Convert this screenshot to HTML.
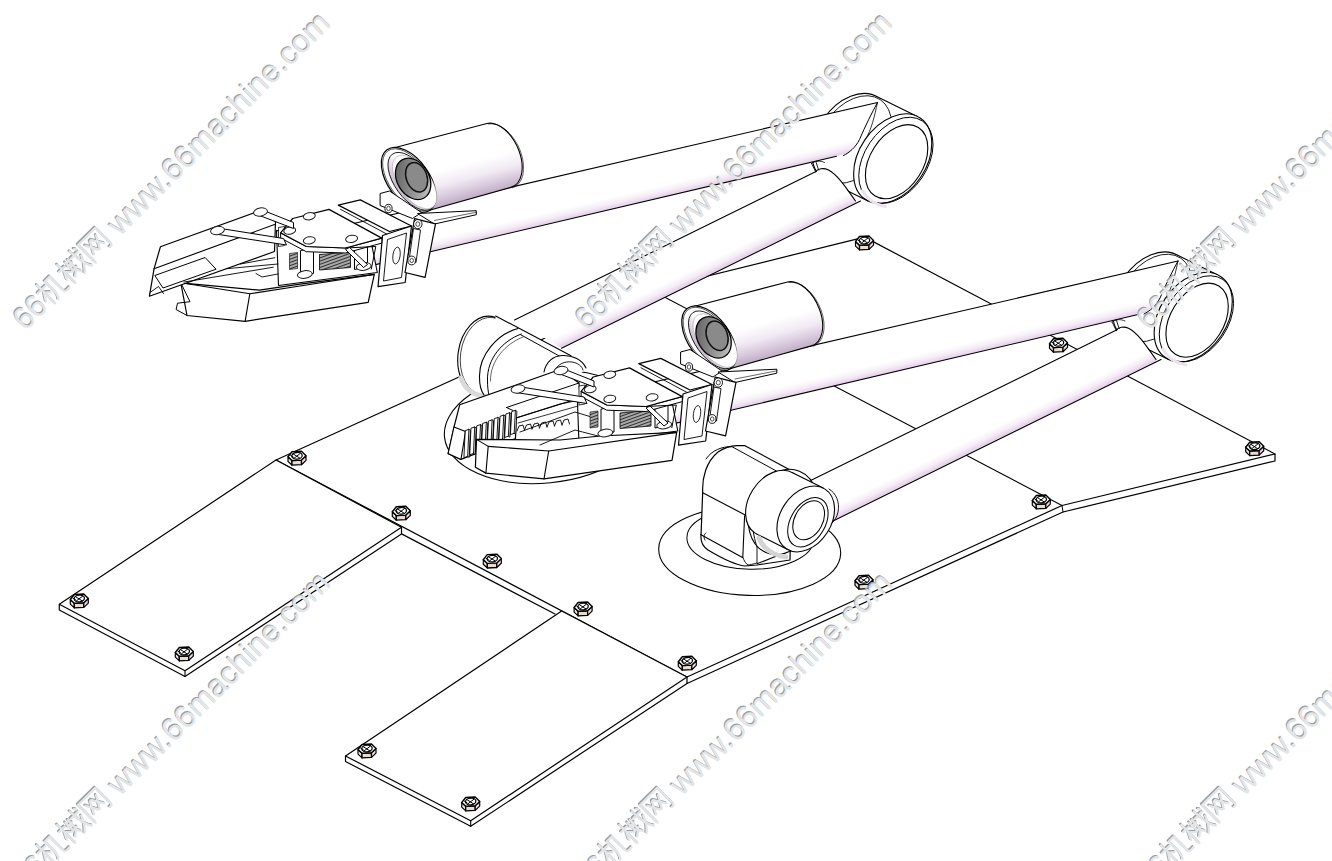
<!DOCTYPE html>
<html><head><meta charset="utf-8"><title>CAD robot arms</title>
<style>html,body{margin:0;padding:0;background:#fff;width:1332px;height:861px;overflow:hidden;font-family:"Liberation Sans",sans-serif;} svg{display:block}</style>
</head><body>
<svg width="1332" height="861" viewBox="0 0 1332 861">
<defs>
<linearGradient id="gTA" gradientUnits="userSpaceOnUse" x1="1000" y1="387.4" x2="1020.04" y2="428.12"><stop offset="0" stop-color="#fff"/><stop offset="0.74" stop-color="#fff"/><stop offset="0.88" stop-color="#f6ecf7"/><stop offset="0.98" stop-color="#e6d2ea"/><stop offset="1" stop-color="#ead9ed"/></linearGradient>
<linearGradient id="gTB" gradientUnits="userSpaceOnUse" x1="900" y1="324.18" x2="910.31" y2="368.08"><stop offset="0" stop-color="#fff"/><stop offset="0.74" stop-color="#fff"/><stop offset="0.88" stop-color="#f6ecf7"/><stop offset="0.98" stop-color="#e6d2ea"/><stop offset="1" stop-color="#ead9ed"/></linearGradient>
<linearGradient id="gCam" gradientUnits="userSpaceOnUse" x1="740" y1="294" x2="757.86" y2="359.61">
<stop offset="0" stop-color="#fff"/><stop offset="0.5" stop-color="#fff"/><stop offset="0.72" stop-color="#f1e9f3"/><stop offset="0.9" stop-color="#d5c5da"/><stop offset="1" stop-color="#c2b0c7"/></linearGradient>
<linearGradient id="gRim" x1="0" y1="0" x2="1" y2="0">
<stop offset="0" stop-color="#c9b3d0"/><stop offset="0.35" stop-color="#efe6f1"/><stop offset="0.5" stop-color="#fff"/><stop offset="1" stop-color="#fff"/></linearGradient>
<linearGradient id="gLens" x1="0" y1="0" x2="1" y2="1">
<stop offset="0" stop-color="#555"/><stop offset="0.45" stop-color="#8a8a8a"/><stop offset="1" stop-color="#d4d4d4"/></linearGradient>
<pattern id="hatch" width="3" height="3" patternUnits="userSpaceOnUse" patternTransform="rotate(70)">
<rect width="3" height="3" fill="#aaa"/><line x1="0" y1="0" x2="0" y2="3" stroke="#111" stroke-width="1.6"/></pattern>
</defs>
<rect width="1332" height="861" fill="#fff"/>
<polygon points="276,460 651,290 864.6,237.1 1275,454 1062,505.5 687,677" fill="#fff" stroke="#000" stroke-width="1.2" stroke-linejoin="round" />
<polyline points="687,677 687,683.5 1063,512 1275,461 1275,454" fill="none" stroke="#000" stroke-width="1.2" stroke-linejoin="round" stroke-linecap="round" />
<line x1="1062" y1="505.5" x2="1063" y2="512" stroke="#000" stroke-width="1.0" stroke-linecap="round"/>
<polyline points="401.5,533.9 555,614" fill="none" stroke="#000" stroke-width="1.2" stroke-linejoin="round" stroke-linecap="round" />
<line x1="651" y1="290" x2="1062" y2="505.5" stroke="#000" stroke-width="1.1" stroke-linecap="round"/>
<polygon points="59.3,604.3 276,460 401.5,527.3 185,670.7" fill="#fff" stroke="#000" stroke-width="1.2" stroke-linejoin="round" />
<polyline points="59.3,604.3 59.3,610 185,676.5 401.5,533.9 401.5,527.3" fill="none" stroke="#000" stroke-width="1.2" stroke-linejoin="round" stroke-linecap="round" />
<line x1="185" y1="670.7" x2="185" y2="676.5" stroke="#000" stroke-width="1.1" stroke-linecap="round"/>
<polygon points="345.5,756 561.7,611 687,677 470.7,820.7" fill="#fff" stroke="#000" stroke-width="1.2" stroke-linejoin="round" />
<polyline points="345.5,756 345.5,761.5 470.7,826.3 687,683.5" fill="none" stroke="#000" stroke-width="1.2" stroke-linejoin="round" stroke-linecap="round" />
<line x1="470.7" y1="820.7" x2="470.7" y2="826.3" stroke="#000" stroke-width="1.1" stroke-linecap="round"/>
<polygon points="70.3,599.5 74.3,603.3 74.3,607.9 70.3,604.1" fill="#ece4dc" stroke="#000" stroke-width="1.2" stroke-linejoin="round" />
<polygon points="74.3,603.3 83.8,602.8 83.8,607.4 74.3,607.9" fill="#eadbcf" stroke="#000" stroke-width="1.3" stroke-linejoin="round" />
<polygon points="83.8,602.8 88.3,598.5 88.3,603.1 83.8,607.4" fill="#f6d9e6" stroke="#000" stroke-width="1.2" stroke-linejoin="round" />
<polygon points="70.3,599.5 74.3,594.5 83.8,594 88.3,598.5 83.8,602.8 74.3,603.3" fill="#fff" stroke="#000" stroke-width="1.4" stroke-linejoin="round" />
<ellipse cx="79.3" cy="598.5" rx="5.2" ry="3.3" transform="rotate(-5 79.3 598.5)" fill="none" stroke="#000" stroke-width="1.3" />
<path d="M75.3,596.5 L82.3,601 M82.8,596 L76.3,601 M72.8,598 L75.8,600" fill="none" stroke="#000" stroke-width="1.0" stroke-linejoin="round" stroke-linecap="round" />
<polygon points="175.3,652.5 179.3,656.3 179.3,660.9 175.3,657.1" fill="#ece4dc" stroke="#000" stroke-width="1.2" stroke-linejoin="round" />
<polygon points="179.3,656.3 188.8,655.8 188.8,660.4 179.3,660.9" fill="#eadbcf" stroke="#000" stroke-width="1.3" stroke-linejoin="round" />
<polygon points="188.8,655.8 193.3,651.5 193.3,656.1 188.8,660.4" fill="#f6d9e6" stroke="#000" stroke-width="1.2" stroke-linejoin="round" />
<polygon points="175.3,652.5 179.3,647.5 188.8,647 193.3,651.5 188.8,655.8 179.3,656.3" fill="#fff" stroke="#000" stroke-width="1.4" stroke-linejoin="round" />
<ellipse cx="184.3" cy="651.5" rx="5.2" ry="3.3" transform="rotate(-5 184.3 651.5)" fill="none" stroke="#000" stroke-width="1.3" />
<path d="M180.3,649.5 L187.3,654 M187.8,649 L181.3,654 M177.8,651 L180.8,653" fill="none" stroke="#000" stroke-width="1.0" stroke-linejoin="round" stroke-linecap="round" />
<polygon points="288,456.8 292,460.6 292,465.2 288,461.4" fill="#ece4dc" stroke="#000" stroke-width="1.2" stroke-linejoin="round" />
<polygon points="292,460.6 301.5,460.1 301.5,464.7 292,465.2" fill="#eadbcf" stroke="#000" stroke-width="1.3" stroke-linejoin="round" />
<polygon points="301.5,460.1 306,455.8 306,460.4 301.5,464.7" fill="#f6d9e6" stroke="#000" stroke-width="1.2" stroke-linejoin="round" />
<polygon points="288,456.8 292,451.8 301.5,451.3 306,455.8 301.5,460.1 292,460.6" fill="#fff" stroke="#000" stroke-width="1.4" stroke-linejoin="round" />
<ellipse cx="297" cy="455.8" rx="5.2" ry="3.3" transform="rotate(-5 297 455.8)" fill="none" stroke="#000" stroke-width="1.3" />
<path d="M293,453.8 L300,458.3 M300.5,453.3 L294,458.3 M290.5,455.3 L293.5,457.3" fill="none" stroke="#000" stroke-width="1.0" stroke-linejoin="round" stroke-linecap="round" />
<polygon points="392.3,511.8 396.3,515.6 396.3,520.2 392.3,516.4" fill="#ece4dc" stroke="#000" stroke-width="1.2" stroke-linejoin="round" />
<polygon points="396.3,515.6 405.8,515.1 405.8,519.7 396.3,520.2" fill="#eadbcf" stroke="#000" stroke-width="1.3" stroke-linejoin="round" />
<polygon points="405.8,515.1 410.3,510.8 410.3,515.4 405.8,519.7" fill="#f6d9e6" stroke="#000" stroke-width="1.2" stroke-linejoin="round" />
<polygon points="392.3,511.8 396.3,506.8 405.8,506.3 410.3,510.8 405.8,515.1 396.3,515.6" fill="#fff" stroke="#000" stroke-width="1.4" stroke-linejoin="round" />
<ellipse cx="401.3" cy="510.8" rx="5.2" ry="3.3" transform="rotate(-5 401.3 510.8)" fill="none" stroke="#000" stroke-width="1.3" />
<path d="M397.3,508.8 L404.3,513.3 M404.8,508.3 L398.3,513.3 M394.8,510.3 L397.8,512.3" fill="none" stroke="#000" stroke-width="1.0" stroke-linejoin="round" stroke-linecap="round" />
<polygon points="483.3,559.6 487.3,563.4 487.3,568 483.3,564.2" fill="#ece4dc" stroke="#000" stroke-width="1.2" stroke-linejoin="round" />
<polygon points="487.3,563.4 496.8,562.9 496.8,567.5 487.3,568" fill="#eadbcf" stroke="#000" stroke-width="1.3" stroke-linejoin="round" />
<polygon points="496.8,562.9 501.3,558.6 501.3,563.2 496.8,567.5" fill="#f6d9e6" stroke="#000" stroke-width="1.2" stroke-linejoin="round" />
<polygon points="483.3,559.6 487.3,554.6 496.8,554.1 501.3,558.6 496.8,562.9 487.3,563.4" fill="#fff" stroke="#000" stroke-width="1.4" stroke-linejoin="round" />
<ellipse cx="492.3" cy="558.6" rx="5.2" ry="3.3" transform="rotate(-5 492.3 558.6)" fill="none" stroke="#000" stroke-width="1.3" />
<path d="M488.3,556.6 L495.3,561.1 M495.8,556.1 L489.3,561.1 M485.8,558.1 L488.8,560.1" fill="none" stroke="#000" stroke-width="1.0" stroke-linejoin="round" stroke-linecap="round" />
<polygon points="574.1,607.5 578.1,611.3 578.1,615.9 574.1,612.1" fill="#ece4dc" stroke="#000" stroke-width="1.2" stroke-linejoin="round" />
<polygon points="578.1,611.3 587.6,610.8 587.6,615.4 578.1,615.9" fill="#eadbcf" stroke="#000" stroke-width="1.3" stroke-linejoin="round" />
<polygon points="587.6,610.8 592.1,606.5 592.1,611.1 587.6,615.4" fill="#f6d9e6" stroke="#000" stroke-width="1.2" stroke-linejoin="round" />
<polygon points="574.1,607.5 578.1,602.5 587.6,602 592.1,606.5 587.6,610.8 578.1,611.3" fill="#fff" stroke="#000" stroke-width="1.4" stroke-linejoin="round" />
<ellipse cx="583.1" cy="606.5" rx="5.2" ry="3.3" transform="rotate(-5 583.1 606.5)" fill="none" stroke="#000" stroke-width="1.3" />
<path d="M579.1,604.5 L586.1,609 M586.6,604 L580.1,609 M576.6,606 L579.6,608" fill="none" stroke="#000" stroke-width="1.0" stroke-linejoin="round" stroke-linecap="round" />
<polygon points="678.3,661.8 682.3,665.6 682.3,670.2 678.3,666.4" fill="#ece4dc" stroke="#000" stroke-width="1.2" stroke-linejoin="round" />
<polygon points="682.3,665.6 691.8,665.1 691.8,669.7 682.3,670.2" fill="#eadbcf" stroke="#000" stroke-width="1.3" stroke-linejoin="round" />
<polygon points="691.8,665.1 696.3,660.8 696.3,665.4 691.8,669.7" fill="#f6d9e6" stroke="#000" stroke-width="1.2" stroke-linejoin="round" />
<polygon points="678.3,661.8 682.3,656.8 691.8,656.3 696.3,660.8 691.8,665.1 682.3,665.6" fill="#fff" stroke="#000" stroke-width="1.4" stroke-linejoin="round" />
<ellipse cx="687.3" cy="660.8" rx="5.2" ry="3.3" transform="rotate(-5 687.3 660.8)" fill="none" stroke="#000" stroke-width="1.3" />
<path d="M683.3,658.8 L690.3,663.3 M690.8,658.3 L684.3,663.3 M680.8,660.3 L683.8,662.3" fill="none" stroke="#000" stroke-width="1.0" stroke-linejoin="round" stroke-linecap="round" />
<polygon points="358,749.5 362,753.3 362,757.9 358,754.1" fill="#ece4dc" stroke="#000" stroke-width="1.2" stroke-linejoin="round" />
<polygon points="362,753.3 371.5,752.8 371.5,757.4 362,757.9" fill="#eadbcf" stroke="#000" stroke-width="1.3" stroke-linejoin="round" />
<polygon points="371.5,752.8 376,748.5 376,753.1 371.5,757.4" fill="#f6d9e6" stroke="#000" stroke-width="1.2" stroke-linejoin="round" />
<polygon points="358,749.5 362,744.5 371.5,744 376,748.5 371.5,752.8 362,753.3" fill="#fff" stroke="#000" stroke-width="1.4" stroke-linejoin="round" />
<ellipse cx="367" cy="748.5" rx="5.2" ry="3.3" transform="rotate(-5 367 748.5)" fill="none" stroke="#000" stroke-width="1.3" />
<path d="M363,746.5 L370,751 M370.5,746 L364,751 M360.5,748 L363.5,750" fill="none" stroke="#000" stroke-width="1.0" stroke-linejoin="round" stroke-linecap="round" />
<polygon points="461.7,802.5 465.7,806.3 465.7,810.9 461.7,807.1" fill="#ece4dc" stroke="#000" stroke-width="1.2" stroke-linejoin="round" />
<polygon points="465.7,806.3 475.2,805.8 475.2,810.4 465.7,810.9" fill="#eadbcf" stroke="#000" stroke-width="1.3" stroke-linejoin="round" />
<polygon points="475.2,805.8 479.7,801.5 479.7,806.1 475.2,810.4" fill="#f6d9e6" stroke="#000" stroke-width="1.2" stroke-linejoin="round" />
<polygon points="461.7,802.5 465.7,797.5 475.2,797 479.7,801.5 475.2,805.8 465.7,806.3" fill="#fff" stroke="#000" stroke-width="1.4" stroke-linejoin="round" />
<ellipse cx="470.7" cy="801.5" rx="5.2" ry="3.3" transform="rotate(-5 470.7 801.5)" fill="none" stroke="#000" stroke-width="1.3" />
<path d="M466.7,799.5 L473.7,804 M474.2,799 L467.7,804 M464.2,801 L467.2,803" fill="none" stroke="#000" stroke-width="1.0" stroke-linejoin="round" stroke-linecap="round" />
<polygon points="855,580.8 859,584.6 859,589.2 855,585.4" fill="#ece4dc" stroke="#000" stroke-width="1.2" stroke-linejoin="round" />
<polygon points="859,584.6 868.5,584.1 868.5,588.7 859,589.2" fill="#eadbcf" stroke="#000" stroke-width="1.3" stroke-linejoin="round" />
<polygon points="868.5,584.1 873,579.8 873,584.4 868.5,588.7" fill="#f6d9e6" stroke="#000" stroke-width="1.2" stroke-linejoin="round" />
<polygon points="855,580.8 859,575.8 868.5,575.3 873,579.8 868.5,584.1 859,584.6" fill="#fff" stroke="#000" stroke-width="1.4" stroke-linejoin="round" />
<ellipse cx="864" cy="579.8" rx="5.2" ry="3.3" transform="rotate(-5 864 579.8)" fill="none" stroke="#000" stroke-width="1.3" />
<path d="M860,577.8 L867,582.3 M867.5,577.3 L861,582.3 M857.5,579.3 L860.5,581.3" fill="none" stroke="#000" stroke-width="1.0" stroke-linejoin="round" stroke-linecap="round" />
<polygon points="1032.3,500.5 1036.3,504.3 1036.3,508.9 1032.3,505.1" fill="#ece4dc" stroke="#000" stroke-width="1.2" stroke-linejoin="round" />
<polygon points="1036.3,504.3 1045.8,503.8 1045.8,508.4 1036.3,508.9" fill="#eadbcf" stroke="#000" stroke-width="1.3" stroke-linejoin="round" />
<polygon points="1045.8,503.8 1050.3,499.5 1050.3,504.1 1045.8,508.4" fill="#f6d9e6" stroke="#000" stroke-width="1.2" stroke-linejoin="round" />
<polygon points="1032.3,500.5 1036.3,495.5 1045.8,495 1050.3,499.5 1045.8,503.8 1036.3,504.3" fill="#fff" stroke="#000" stroke-width="1.4" stroke-linejoin="round" />
<ellipse cx="1041.3" cy="499.5" rx="5.2" ry="3.3" transform="rotate(-5 1041.3 499.5)" fill="none" stroke="#000" stroke-width="1.3" />
<path d="M1037.3,497.5 L1044.3,502 M1044.8,497 L1038.3,502 M1034.8,499 L1037.8,501" fill="none" stroke="#000" stroke-width="1.0" stroke-linejoin="round" stroke-linecap="round" />
<polygon points="1245.7,447.2 1249.7,451 1249.7,455.6 1245.7,451.8" fill="#ece4dc" stroke="#000" stroke-width="1.2" stroke-linejoin="round" />
<polygon points="1249.7,451 1259.2,450.5 1259.2,455.1 1249.7,455.6" fill="#eadbcf" stroke="#000" stroke-width="1.3" stroke-linejoin="round" />
<polygon points="1259.2,450.5 1263.7,446.2 1263.7,450.8 1259.2,455.1" fill="#f6d9e6" stroke="#000" stroke-width="1.2" stroke-linejoin="round" />
<polygon points="1245.7,447.2 1249.7,442.2 1259.2,441.7 1263.7,446.2 1259.2,450.5 1249.7,451" fill="#fff" stroke="#000" stroke-width="1.4" stroke-linejoin="round" />
<ellipse cx="1254.7" cy="446.2" rx="5.2" ry="3.3" transform="rotate(-5 1254.7 446.2)" fill="none" stroke="#000" stroke-width="1.3" />
<path d="M1250.7,444.2 L1257.7,448.7 M1258.2,443.7 L1251.7,448.7 M1248.2,445.7 L1251.2,447.7" fill="none" stroke="#000" stroke-width="1.0" stroke-linejoin="round" stroke-linecap="round" />
<polygon points="1049.5,343.8 1053.5,347.6 1053.5,352.2 1049.5,348.4" fill="#ece4dc" stroke="#000" stroke-width="1.2" stroke-linejoin="round" />
<polygon points="1053.5,347.6 1063,347.1 1063,351.7 1053.5,352.2" fill="#eadbcf" stroke="#000" stroke-width="1.3" stroke-linejoin="round" />
<polygon points="1063,347.1 1067.5,342.8 1067.5,347.4 1063,351.7" fill="#f6d9e6" stroke="#000" stroke-width="1.2" stroke-linejoin="round" />
<polygon points="1049.5,343.8 1053.5,338.8 1063,338.3 1067.5,342.8 1063,347.1 1053.5,347.6" fill="#fff" stroke="#000" stroke-width="1.4" stroke-linejoin="round" />
<ellipse cx="1058.5" cy="342.8" rx="5.2" ry="3.3" transform="rotate(-5 1058.5 342.8)" fill="none" stroke="#000" stroke-width="1.3" />
<path d="M1054.5,340.8 L1061.5,345.3 M1062,340.3 L1055.5,345.3 M1052,342.3 L1055,344.3" fill="none" stroke="#000" stroke-width="1.0" stroke-linejoin="round" stroke-linecap="round" />
<polygon points="855.5,241.5 859.5,245.3 859.5,249.9 855.5,246.1" fill="#ece4dc" stroke="#000" stroke-width="1.2" stroke-linejoin="round" />
<polygon points="859.5,245.3 869,244.8 869,249.4 859.5,249.9" fill="#eadbcf" stroke="#000" stroke-width="1.3" stroke-linejoin="round" />
<polygon points="869,244.8 873.5,240.5 873.5,245.1 869,249.4" fill="#f6d9e6" stroke="#000" stroke-width="1.2" stroke-linejoin="round" />
<polygon points="855.5,241.5 859.5,236.5 869,236 873.5,240.5 869,244.8 859.5,245.3" fill="#fff" stroke="#000" stroke-width="1.4" stroke-linejoin="round" />
<ellipse cx="864.5" cy="240.5" rx="5.2" ry="3.3" transform="rotate(-5 864.5 240.5)" fill="none" stroke="#000" stroke-width="1.3" />
<path d="M860.5,238.5 L867.5,243 M868,238 L861.5,243 M858,240 L861,242" fill="none" stroke="#000" stroke-width="1.0" stroke-linejoin="round" stroke-linecap="round" />
<ellipse cx="749.7" cy="551" rx="91" ry="44.4" transform="rotate(1.6 749.7 551)" fill="#fff" stroke="#000" stroke-width="1.1" />
<ellipse cx="545" cy="427" rx="101" ry="56" transform="rotate(-5.75 545 427)" fill="#fff" stroke="#000" stroke-width="1.1" />
<g transform="translate(-300.5,-158.5)"><ellipse cx="1151.5" cy="296.8" rx="33.6" ry="49" transform="rotate(34 1151.5 296.8)" fill="#fff" stroke="#000" stroke-width="1.1" />
<polygon points="1168.57,359.43 1126.87,339.03 1176.13,254.57 1217.83,274.97" fill="#fff" stroke="none" stroke-width="0" stroke-linejoin="round" />
<line x1="1168.57" y1="359.43" x2="1126.87" y2="339.03" stroke="#000" stroke-width="1.1" stroke-linecap="round"/><line x1="1217.83" y1="274.97" x2="1176.13" y2="254.57" stroke="#000" stroke-width="1.1" stroke-linecap="round"/>
<ellipse cx="1154" cy="298" rx="32.6" ry="48" transform="rotate(34 1154 298)" fill="none" stroke="#000" stroke-width="0.8" /><polygon points="640,385.28 1178,261 1170,278 1160,298 1148,312 1137,314.81 640,431.6" fill="url(#gTB)" stroke="none" stroke-width="0" stroke-linejoin="round" />
<polyline points="640,385.28 1178,261" fill="none" stroke="#000" stroke-width="1.1" stroke-linejoin="round" stroke-linecap="round" />
<polyline points="640,431.6 1137,314.81" fill="none" stroke="#000" stroke-width="1.1" stroke-linejoin="round" stroke-linecap="round" />
<path d="M1178,261 C1172,272 1166,284 1160,298 C1156,306 1150,311 1144,314" fill="none" stroke="#000" stroke-width="1.0" stroke-linejoin="round" stroke-linecap="round" />
<path d="M1178,261 C1175,275 1172,288 1166,298" fill="none" stroke="#000" stroke-width="0.8" stroke-linejoin="round" stroke-linecap="round" /><polygon points="815,478.42 1117,329.84 1124,327.5 1137,333.4 1149.4,351.3 1157,361.56 862,506.7" fill="url(#gTA)" stroke="none" stroke-width="0" stroke-linejoin="round" />
<polyline points="815,478.42 1117,329.84" fill="none" stroke="#000" stroke-width="1.1" stroke-linejoin="round" stroke-linecap="round" />
<polyline points="862,506.7 1161,359.59" fill="none" stroke="#000" stroke-width="1.1" stroke-linejoin="round" stroke-linecap="round" />
<path d="M1116,330.4 C1118,327 1124,326 1129,328.5 C1139,334 1147,347 1156,359.5" fill="none" stroke="#000" stroke-width="1.1" stroke-linejoin="round" stroke-linecap="round" />
<path d="M1112,322 L1116,330 M1112,322 C1116,319 1121,319 1125,321" fill="none" stroke="#000" stroke-width="0.8" stroke-linejoin="round" stroke-linecap="round" /></g>
<polygon points="495.7,316 571,355.7 586,368 575,380 490,396" fill="#fff" stroke="none" stroke-width="0" stroke-linejoin="round" />
<ellipse cx="486" cy="356" rx="28" ry="40" transform="rotate(8 486 356)" fill="#fff" stroke="#000" stroke-width="1.1" />
<ellipse cx="487.5" cy="356.2" rx="27" ry="39" transform="rotate(8 487.5 356.2)" fill="none" stroke="#000" stroke-width="0.7" />
<polygon points="495.7,316 518,328.5 530,345 500,395 486,396" fill="#fff" stroke="none" stroke-width="0" stroke-linejoin="round" />
<line x1="495.7" y1="316" x2="571" y2="355.7" stroke="#000" stroke-width="1.1" stroke-linecap="round"/>
<path d="M461,378 C465,389 473,395 484,396" fill="none" stroke="#d9d9d9" stroke-width="5" stroke-linejoin="round" stroke-linecap="round" />
<path d="M518,328.5 C497,334 479,355 479.5,377 C479.5,385 481,391 484,395" fill="none" stroke="#000" stroke-width="1.1" stroke-linejoin="round" stroke-linecap="round" />
<path d="M521.3,334 C502,341 487,359 487.5,380 C487.5,387 488,391 489,395" fill="none" stroke="#000" stroke-width="1.0" stroke-linejoin="round" stroke-linecap="round" />
<path d="M523,337 C505,344 490,361 490.5,381" fill="none" stroke="#000" stroke-width="0.6" stroke-linejoin="round" stroke-linecap="round" />
<line x1="520.8" y1="334.8" x2="561.3" y2="357.1" stroke="#000" stroke-width="1.0" stroke-linecap="round"/>
<path d="M544,372 C546,362 553,356 562,355.5 C572,355 582,359 586,368" fill="#fff" stroke="#000" stroke-width="1.1" stroke-linejoin="round" stroke-linecap="round" />
<path d="M555,370 C558,364 565,361 572,362 C578,363 582,366 583,370" fill="none" stroke="#000" stroke-width="0.9" stroke-linejoin="round" stroke-linecap="round" />
<g transform="translate(-300.5,-158.5)"><ellipse cx="1193.2" cy="317.2" rx="33.6" ry="49" transform="rotate(34 1193.2 317.2)" fill="#fff" stroke="#000" stroke-width="1.1" />
<ellipse cx="1196.4" cy="318.8" rx="31.4" ry="47.4" transform="rotate(34 1196.4 318.8)" fill="none" stroke="#000" stroke-width="0.9" />
<path d="M1163,349 C1167,357 1175,363 1186,365" fill="none" stroke="#eee2ee" stroke-width="3.0" stroke-linejoin="round" stroke-linecap="round" />
<ellipse cx="1197.1" cy="320.19" rx="26.49" ry="40.5" transform="rotate(32.56 1197.1 320.19)" fill="#fff" stroke="#000" stroke-width="1.1" /><path d="M691.9,306.91 L787.44,281.94 A20.67,34.29 -24.56 0 1 811.46,345.86 L726.42,369.75 Z" fill="url(#gCam)" stroke="#000" stroke-width="1.1" stroke-linejoin="round" stroke-linecap="round" />
<path d="M788.94,282.44 A20.67,34.29 -24.56 0 1 812.96,346.36" fill="none" stroke="#000" stroke-width="0.6" stroke-linejoin="round" stroke-linecap="round" />
<ellipse cx="709.16" cy="338.33" rx="20.64" ry="37.05" transform="rotate(-35.73 709.16 338.33)" fill="#fff" stroke="#000" stroke-width="1.2" />
<ellipse cx="709.16" cy="338.33" rx="19.24" ry="35.65" transform="rotate(-35.73 709.16 338.33)" fill="none" stroke="#000" stroke-width="0.6" />
<ellipse cx="712.36" cy="339.83" rx="17.04" ry="33.45" transform="rotate(-35.73 712.36 339.83)" fill="url(#gRim)" stroke="#000" stroke-width="0.8" />
<ellipse cx="715.16" cy="340.53" rx="15.84" ry="30.95" transform="rotate(-35.73 715.16 340.53)" fill="#fff" stroke="#999" stroke-width="0.5" />
<ellipse cx="713.6" cy="337.4" rx="16" ry="22" transform="rotate(-30 713.6 337.4)" fill="url(#gLens)" stroke="#000" stroke-width="1.3" />
<ellipse cx="717.1" cy="335.8" rx="10.4" ry="15.2" transform="rotate(-20 717.1 335.8)" fill="#8a8a8a" stroke="#111" stroke-width="1.5" /><polygon points="680.6,352 690,349.5 722,371 713,377 680.6,364" fill="#fff" stroke="#000" stroke-width="1.0" stroke-linejoin="round" />
<ellipse cx="689" cy="367" rx="3.6" ry="4.2" transform="rotate(0 689 367)" fill="#fff" stroke="#000" stroke-width="0.9" />
<ellipse cx="689" cy="367" rx="1.8" ry="2.2" transform="rotate(0 689 367)" fill="none" stroke="#000" stroke-width="0.7" />
<polygon points="718,372 776.8,369.2 776.8,373.2 735,382.5" fill="#fff" stroke="#000" stroke-width="1.0" stroke-linejoin="round" />
<line x1="735" y1="379" x2="776.8" y2="370.8" stroke="#000" stroke-width="0.6" stroke-linecap="round"/>
<polygon points="638.8,363.6 660.8,358.4 712,384.5 690,390" fill="#fff" stroke="#000" stroke-width="1.2" stroke-linejoin="round" />
<line x1="641" y1="367.8" x2="689" y2="393.5" stroke="#000" stroke-width="0.9" stroke-linecap="round"/>
<polygon points="683,394 712,384.5 705.7,441 678.5,445.2" fill="#fff" stroke="#000" stroke-width="1.2" stroke-linejoin="round" />
<polygon points="688,398 707,391.5 702,436 684,439.5" fill="#fff" stroke="#000" stroke-width="0.9" stroke-linejoin="round" />
<ellipse cx="697" cy="414" rx="3.6" ry="8.5" transform="rotate(8 697 414)" fill="#fff" stroke="#000" stroke-width="0.8" />
<polygon points="715.1,377.2 736,382.4 725.6,435.8 705.5,431" fill="#fff" stroke="#000" stroke-width="1.2" stroke-linejoin="round" />
<polygon points="714,387 721,388.5 716.5,421 709.5,419.5" fill="#fff" stroke="#000" stroke-width="0.9" stroke-linejoin="round" />
<ellipse cx="718.3" cy="382.6" rx="4.2" ry="4.6" transform="rotate(0 718.3 382.6)" fill="#fff" stroke="#000" stroke-width="0.9" />
<ellipse cx="718.3" cy="382.6" rx="2" ry="2.3" transform="rotate(0 718.3 382.6)" fill="none" stroke="#000" stroke-width="0.7" />
<ellipse cx="712.2" cy="419" rx="3.8" ry="4.4" transform="rotate(0 712.2 419)" fill="#fff" stroke="#000" stroke-width="0.9" />
<ellipse cx="712.2" cy="419" rx="1.8" ry="2.1" transform="rotate(0 712.2 419)" fill="none" stroke="#000" stroke-width="0.7" /><polygon points="577,389 670,392 677.8,431 579,444" fill="#fff" stroke="#000" stroke-width="1.1" stroke-linejoin="round" />
<polygon points="487.5,474 481.3,441.3 560,448.7 600.5,442.7 674.8,432.9 668.7,460.8 545.6,479.8" fill="#fff" stroke="#000" stroke-width="1.2" stroke-linejoin="round" />
<polyline points="550.3,452.3 545.6,479.8" fill="none" stroke="#000" stroke-width="1.1" stroke-linejoin="round" stroke-linecap="round" />
<polyline points="481.3,441.3 550.3,452.3 600.5,444.5 674.8,432.9" fill="none" stroke="#000" stroke-width="1.1" stroke-linejoin="round" stroke-linecap="round" />
<polyline points="481.3,441.3 490.5,460.2 478,461.7 476.6,468 487.5,474" fill="none" stroke="#000" stroke-width="1.0" stroke-linejoin="round" stroke-linecap="round" />
<polygon points="460.9,405.3 558.1,370 576,380 575,410 449.9,454.7 454.6,427.2" fill="#fff" stroke="#000" stroke-width="1.2" stroke-linejoin="round" />
<polyline points="454.6,427.2 575,383" fill="none" stroke="#000" stroke-width="1.1" stroke-linejoin="round" stroke-linecap="round" />
<polygon points="455.3,434 505.6,416 516.6,427.7 463.5,446.5" fill="#fff" stroke="#000" stroke-width="1.0" stroke-linejoin="round" />
<polyline points="450.5,451 459,445 464,452" fill="none" stroke="#000" stroke-width="0.9" stroke-linejoin="round" stroke-linecap="round" />
<polyline points="484.4,440.6 573.8,425.7" fill="none" stroke="#000" stroke-width="0.9" stroke-linejoin="round" stroke-linecap="round" />
<polyline points="526.8,427.2 578.5,422.5" fill="none" stroke="#000" stroke-width="0.9" stroke-linejoin="round" stroke-linecap="round" />
<polyline points="540.9,422.5 575.4,416.2" fill="none" stroke="#000" stroke-width="0.9" stroke-linejoin="round" stroke-linecap="round" />
<polyline points="556.5,432 562.5,435.5 578.5,432.5" fill="none" stroke="#000" stroke-width="0.9" stroke-linejoin="round" stroke-linecap="round" />
<polygon points="601,409 614,407 614,432 601,434" fill="#fff" stroke="#000" stroke-width="1.0" stroke-linejoin="round" />
<polygon points="655,407 668,404 668,425 655,428" fill="#fff" stroke="#000" stroke-width="1.0" stroke-linejoin="round" />
<ellipse cx="605.3" cy="433" rx="7.5" ry="3.8" transform="rotate(-8 605.3 433)" fill="#fff" stroke="#1a1a1a" stroke-width="1.0" />
<ellipse cx="664.2" cy="425" rx="7.5" ry="3.8" transform="rotate(-8 664.2 425)" fill="#fff" stroke="#1a1a1a" stroke-width="1.0" />
<polygon points="620,413 651,410.5 651,426 620,428.5" fill="url(#hatch)" stroke="#000" stroke-width="0.8" stroke-linejoin="round" />
<polygon points="590,412 598,411 598,427 590,428" fill="url(#hatch)" stroke="#000" stroke-width="0.6" stroke-linejoin="round" />
<polygon points="579,386 585,385 585,404 579,405" fill="#fff" stroke="#000" stroke-width="0.8" stroke-linejoin="round" />
<polygon points="581.1,391.4 581.1,396.5 606.8,410.2 646.1,411.5 682.3,401.6 682.3,396.6 646.1,406.5 606.8,405" fill="#fff" stroke="#000" stroke-width="1.0" stroke-linejoin="round" />
<polygon points="581.1,391.4 593.2,377 629.5,367.9 682.3,396.6 646.1,406.5 606.8,405" fill="#fff" stroke="#000" stroke-width="1.2" stroke-linejoin="round" />
<ellipse cx="609.8" cy="374.7" rx="6" ry="3.6" transform="rotate(-10 609.8 374.7)" fill="#fff" stroke="#1a1a1a" stroke-width="1.0" />
<ellipse cx="590.2" cy="389.1" rx="6" ry="3.6" transform="rotate(-10 590.2 389.1)" fill="#fff" stroke="#1a1a1a" stroke-width="1.0" />
<ellipse cx="609.8" cy="398.9" rx="6" ry="3.6" transform="rotate(-10 609.8 398.9)" fill="#fff" stroke="#1a1a1a" stroke-width="1.0" />
<ellipse cx="652.1" cy="397.4" rx="6" ry="3.6" transform="rotate(-10 652.1 397.4)" fill="#fff" stroke="#1a1a1a" stroke-width="1.0" />
<polygon points="559,367 594,381 594,387 560,374" fill="#fff" stroke="#000" stroke-width="1.0" stroke-linejoin="round" />
<polygon points="515,386 584,397 587,403.5 516,392.5" fill="#fff" stroke="#000" stroke-width="1.0" stroke-linejoin="round" />
<ellipse cx="561" cy="370.5" rx="7" ry="4" transform="rotate(-10 561 370.5)" fill="#fff" stroke="#1a1a1a" stroke-width="1.0" />
<ellipse cx="518" cy="389" rx="7" ry="4" transform="rotate(-10 518 389)" fill="#fff" stroke="#1a1a1a" stroke-width="1.0" />
<polyline points="646.1,406.5 676.3,405 671.8,427.6" fill="none" stroke="#000" stroke-width="1.0" stroke-linejoin="round" stroke-linecap="round" />
<polygon points="646,408 650,406 668,423 664,426" fill="#fff" stroke="#000" stroke-width="1.0" stroke-linejoin="round" /></g>
<g><ellipse cx="1151.5" cy="296.8" rx="33.6" ry="49" transform="rotate(34 1151.5 296.8)" fill="#fff" stroke="#000" stroke-width="1.1" />
<polygon points="1168.57,359.43 1126.87,339.03 1176.13,254.57 1217.83,274.97" fill="#fff" stroke="none" stroke-width="0" stroke-linejoin="round" />
<line x1="1168.57" y1="359.43" x2="1126.87" y2="339.03" stroke="#000" stroke-width="1.1" stroke-linecap="round"/><line x1="1217.83" y1="274.97" x2="1176.13" y2="254.57" stroke="#000" stroke-width="1.1" stroke-linecap="round"/>
<ellipse cx="1154" cy="298" rx="32.6" ry="48" transform="rotate(34 1154 298)" fill="none" stroke="#000" stroke-width="0.8" /><polygon points="640,385.28 1178,261 1170,278 1160,298 1148,312 1137,314.81 640,431.6" fill="url(#gTB)" stroke="none" stroke-width="0" stroke-linejoin="round" />
<polyline points="640,385.28 1178,261" fill="none" stroke="#000" stroke-width="1.1" stroke-linejoin="round" stroke-linecap="round" />
<polyline points="640,431.6 1137,314.81" fill="none" stroke="#000" stroke-width="1.1" stroke-linejoin="round" stroke-linecap="round" />
<path d="M1178,261 C1172,272 1166,284 1160,298 C1156,306 1150,311 1144,314" fill="none" stroke="#000" stroke-width="1.0" stroke-linejoin="round" stroke-linecap="round" />
<path d="M1178,261 C1175,275 1172,288 1166,298" fill="none" stroke="#000" stroke-width="0.8" stroke-linejoin="round" stroke-linecap="round" /><polygon points="805,483.34 1117,329.84 1124,327.5 1137,333.4 1149.4,351.3 1157,361.56 830,522.44" fill="url(#gTA)" stroke="none" stroke-width="0" stroke-linejoin="round" />
<polyline points="805,483.34 1117,329.84" fill="none" stroke="#000" stroke-width="1.1" stroke-linejoin="round" stroke-linecap="round" />
<polyline points="830,522.44 1161,359.59" fill="none" stroke="#000" stroke-width="1.1" stroke-linejoin="round" stroke-linecap="round" />
<path d="M1116,330.4 C1118,327 1124,326 1129,328.5 C1139,334 1147,347 1156,359.5" fill="none" stroke="#000" stroke-width="1.1" stroke-linejoin="round" stroke-linecap="round" />
<path d="M1112,322 L1116,330 M1112,322 C1116,319 1121,319 1125,321" fill="none" stroke="#000" stroke-width="0.8" stroke-linejoin="round" stroke-linecap="round" /></g>
<ellipse cx="750.3" cy="538.5" rx="63.4" ry="30.8" transform="rotate(1 750.3 538.5)" fill="#fff" stroke="#000" stroke-width="1.0" />
<path d="M701,536 L702.7,492 C702,478 706,462 718,452 C724,448 730,446 737,445.7 L745,445.7 L792,471 L790,560 L757,565 L745,566 C735,565 718,556 708,550 C702,546 700.6,542 701,536 Z" fill="#fff" stroke="#000" stroke-width="1.2" stroke-linejoin="round" stroke-linecap="round" />
<polyline points="702.7,492.7 746.6,515.7" fill="none" stroke="#000" stroke-width="1.1" stroke-linejoin="round" stroke-linecap="round" />
<path d="M706,459 C712,450 722,446.5 732,446.7 L776,470.8" fill="none" stroke="#000" stroke-width="1.0" stroke-linejoin="round" stroke-linecap="round" />
<polyline points="700.6,534.6 742.5,557.6" fill="none" stroke="#000" stroke-width="1.1" stroke-linejoin="round" stroke-linecap="round" />
<path d="M705,540 C703,537 704,534 706,533" fill="none" stroke="#000" stroke-width="0.9" stroke-linejoin="round" stroke-linecap="round" />
<line x1="744.6" y1="515.7" x2="742.8" y2="557" stroke="#000" stroke-width="1.1" stroke-linecap="round"/>
<path d="M742.8,557 C744,561 746,564 748,565 M757,547 L757,563 C753,564 750,565 748,565" fill="none" stroke="#000" stroke-width="0.9" stroke-linejoin="round" stroke-linecap="round" />
<line x1="757" y1="563.8" x2="784" y2="553" stroke="#000" stroke-width="1.1" stroke-linecap="round"/>
<ellipse cx="783" cy="512" rx="33" ry="44" transform="rotate(22 783 512)" fill="#fff" stroke="#000" stroke-width="1.1" />
<path d="M776,470.8 C763,478 753,495 752,515 C752,530 755,541 757,547" fill="none" stroke="#000" stroke-width="1.0" stroke-linejoin="round" stroke-linecap="round" />
<ellipse cx="774.42" cy="503.26" rx="25.46" ry="35.57" transform="rotate(32.88 774.42 503.26)" fill="#fff" stroke="#000" stroke-width="1.1" />
<polygon points="788.14,549.82 756.84,534.12 792,472.4 823.3,488.1" fill="#fff" stroke="none" stroke-width="0" stroke-linejoin="round" />
<line x1="788.14" y1="549.82" x2="756.84" y2="534.12" stroke="#000" stroke-width="1.1" stroke-linecap="round"/><line x1="823.3" y1="488.1" x2="792" y2="472.4" stroke="#000" stroke-width="1.1" stroke-linecap="round"/>
<path d="M759,538 C763,548 772,555 786,557" fill="none" stroke="#d4d4d4" stroke-width="5" stroke-linejoin="round" stroke-linecap="round" />
<ellipse cx="805.72" cy="518.96" rx="25.46" ry="35.57" transform="rotate(32.88 805.72 518.96)" fill="#fff" stroke="#000" stroke-width="1.1" />
<ellipse cx="807.89" cy="522.28" rx="17.37" ry="26.76" transform="rotate(30.49 807.89 522.28)" fill="#fff" stroke="#000" stroke-width="1.0" />
<ellipse cx="808.68" cy="520.25" rx="14.05" ry="20.9" transform="rotate(28.8 808.68 520.25)" fill="#fff" stroke="#000" stroke-width="1.0" />
<path d="M829,489 C836,493 840,502 838,512 C837,517 835,520 832,523" fill="none" stroke="#000" stroke-width="0.9" stroke-linejoin="round" stroke-linecap="round" />
<g><ellipse cx="1193.2" cy="317.2" rx="33.6" ry="49" transform="rotate(34 1193.2 317.2)" fill="#fff" stroke="#000" stroke-width="1.1" />
<ellipse cx="1196.4" cy="318.8" rx="31.4" ry="47.4" transform="rotate(34 1196.4 318.8)" fill="none" stroke="#000" stroke-width="0.9" />
<path d="M1163,349 C1167,357 1175,363 1186,365" fill="none" stroke="#eee2ee" stroke-width="3.0" stroke-linejoin="round" stroke-linecap="round" />
<ellipse cx="1197.1" cy="320.19" rx="26.49" ry="40.5" transform="rotate(32.56 1197.1 320.19)" fill="#fff" stroke="#000" stroke-width="1.1" /><path d="M691.9,306.91 L787.44,281.94 A20.67,34.29 -24.56 0 1 811.46,345.86 L726.42,369.75 Z" fill="url(#gCam)" stroke="#000" stroke-width="1.1" stroke-linejoin="round" stroke-linecap="round" />
<path d="M788.94,282.44 A20.67,34.29 -24.56 0 1 812.96,346.36" fill="none" stroke="#000" stroke-width="0.6" stroke-linejoin="round" stroke-linecap="round" />
<ellipse cx="709.16" cy="338.33" rx="20.64" ry="37.05" transform="rotate(-35.73 709.16 338.33)" fill="#fff" stroke="#000" stroke-width="1.2" />
<ellipse cx="709.16" cy="338.33" rx="19.24" ry="35.65" transform="rotate(-35.73 709.16 338.33)" fill="none" stroke="#000" stroke-width="0.6" />
<ellipse cx="712.36" cy="339.83" rx="17.04" ry="33.45" transform="rotate(-35.73 712.36 339.83)" fill="url(#gRim)" stroke="#000" stroke-width="0.8" />
<ellipse cx="715.16" cy="340.53" rx="15.84" ry="30.95" transform="rotate(-35.73 715.16 340.53)" fill="#fff" stroke="#999" stroke-width="0.5" />
<ellipse cx="713.6" cy="337.4" rx="16" ry="22" transform="rotate(-30 713.6 337.4)" fill="url(#gLens)" stroke="#000" stroke-width="1.3" />
<ellipse cx="717.1" cy="335.8" rx="10.4" ry="15.2" transform="rotate(-20 717.1 335.8)" fill="#8a8a8a" stroke="#111" stroke-width="1.5" /><polygon points="680.6,352 690,349.5 722,371 713,377 680.6,364" fill="#fff" stroke="#000" stroke-width="1.0" stroke-linejoin="round" />
<ellipse cx="689" cy="367" rx="3.6" ry="4.2" transform="rotate(0 689 367)" fill="#fff" stroke="#000" stroke-width="0.9" />
<ellipse cx="689" cy="367" rx="1.8" ry="2.2" transform="rotate(0 689 367)" fill="none" stroke="#000" stroke-width="0.7" />
<polygon points="718,372 776.8,369.2 776.8,373.2 735,382.5" fill="#fff" stroke="#000" stroke-width="1.0" stroke-linejoin="round" />
<line x1="735" y1="379" x2="776.8" y2="370.8" stroke="#000" stroke-width="0.6" stroke-linecap="round"/>
<polygon points="638.8,363.6 660.8,358.4 712,384.5 690,390" fill="#fff" stroke="#000" stroke-width="1.2" stroke-linejoin="round" />
<line x1="641" y1="367.8" x2="689" y2="393.5" stroke="#000" stroke-width="0.9" stroke-linecap="round"/>
<polygon points="683,394 712,384.5 705.7,441 678.5,445.2" fill="#fff" stroke="#000" stroke-width="1.2" stroke-linejoin="round" />
<polygon points="688,398 707,391.5 702,436 684,439.5" fill="#fff" stroke="#000" stroke-width="0.9" stroke-linejoin="round" />
<ellipse cx="697" cy="414" rx="3.6" ry="8.5" transform="rotate(8 697 414)" fill="#fff" stroke="#000" stroke-width="0.8" />
<polygon points="715.1,377.2 736,382.4 725.6,435.8 705.5,431" fill="#fff" stroke="#000" stroke-width="1.2" stroke-linejoin="round" />
<polygon points="714,387 721,388.5 716.5,421 709.5,419.5" fill="#fff" stroke="#000" stroke-width="0.9" stroke-linejoin="round" />
<ellipse cx="718.3" cy="382.6" rx="4.2" ry="4.6" transform="rotate(0 718.3 382.6)" fill="#fff" stroke="#000" stroke-width="0.9" />
<ellipse cx="718.3" cy="382.6" rx="2" ry="2.3" transform="rotate(0 718.3 382.6)" fill="none" stroke="#000" stroke-width="0.7" />
<ellipse cx="712.2" cy="419" rx="3.8" ry="4.4" transform="rotate(0 712.2 419)" fill="#fff" stroke="#000" stroke-width="0.9" />
<ellipse cx="712.2" cy="419" rx="1.8" ry="2.1" transform="rotate(0 712.2 419)" fill="none" stroke="#000" stroke-width="0.7" /><polygon points="577,389 670,392 677.8,431 579,444" fill="#fff" stroke="#000" stroke-width="1.1" stroke-linejoin="round" />
<polygon points="459.7,404.8 560,369.5 579,383 580,398 516,418 515.5,438.5 461,459.4 448.1,453.6 454,427" fill="#fff" stroke="#000" stroke-width="1.2" stroke-linejoin="round" />
<polyline points="506.5,407.5 579,383" fill="none" stroke="#000" stroke-width="1.0" stroke-linejoin="round" stroke-linecap="round" />
<polyline points="506.5,407.5 513,410.5" fill="none" stroke="#000" stroke-width="1.0" stroke-linejoin="round" stroke-linecap="round" />
<polygon points="454,427 465.5,431.6 461,459.4 448.1,453.6" fill="#fff" stroke="#000" stroke-width="1.1" stroke-linejoin="round" />
<path d="M465.5,430.5 L468.9,429.3 L467.7,456.3 L464.3,457.5 Z M468.9,429.3 L470.4,430.3 L469.2,457.3 L467.7,456.3 M471.31,428.12 L474.71,426.93 L473.51,453.43 L470.11,454.62 Z M474.71,426.93 L476.21,427.93 L475.01,454.43 L473.51,453.43 M477.12,425.75 L480.52,424.55 L479.32,450.55 L475.93,451.75 Z M480.52,424.55 L482.02,425.55 L480.82,451.55 L479.32,450.55 M482.94,423.38 L486.34,422.18 L485.14,447.68 L481.74,448.88 Z M486.34,422.18 L487.84,423.18 L486.64,448.68 L485.14,447.68 M488.75,421 L492.15,419.8 L490.95,444.8 L487.55,446 Z M492.15,419.8 L493.65,420.8 L492.45,445.8 L490.95,444.8 M494.56,418.62 L497.96,417.43 L496.76,441.93 L493.36,443.12 Z M497.96,417.43 L499.46,418.43 L498.26,442.93 L496.76,441.93 M500.38,416.25 L503.77,415.05 L502.57,439.05 L499.18,440.25 Z M503.77,415.05 L505.27,416.05 L504.07,440.05 L502.57,439.05 M506.19,413.88 L509.59,412.68 L508.39,436.18 L504.99,437.38 Z M509.59,412.68 L511.09,413.68 L509.89,437.18 L508.39,436.18 M512,411.5 L515.4,410.3 L514.2,433.3 L510.8,434.5 Z M515.4,410.3 L516.9,411.3 L515.7,434.3 L514.2,433.3" fill="#fff" stroke="#000" stroke-width="0.9" stroke-linejoin="round" stroke-linecap="round" />
<path d="M517,431 L519,426 L523,425 L524.5,430 M524.5,430 L526.5,425 L530.5,424 L532,429 M532,429 L534,424 L538,423 L539.5,428 M539.5,428 L541.5,423 L545.5,422 L547,427 M547,427 L549,422 L553,421 L554.5,426 M554.5,426 L556.5,421 L560.5,420 L562,425 M562,425 L564,420 L568,419 L569.5,424" fill="none" stroke="#000" stroke-width="0.9" stroke-linejoin="round" stroke-linecap="round" />
<polyline points="516,418 560,404 600,396" fill="none" stroke="#000" stroke-width="0.9" stroke-linejoin="round" stroke-linecap="round" />
<polyline points="518,423 578,406" fill="none" stroke="#000" stroke-width="0.8" stroke-linejoin="round" stroke-linecap="round" />
<polygon points="476.5,439.4 560,440 600.5,436 676.7,432.4 672,460.3 544,478.9 485.9,473.1 475.4,467.3" fill="#fff" stroke="#000" stroke-width="1.2" stroke-linejoin="round" />
<polyline points="476.5,439.4 488.2,446.4 548.7,451 676.7,432.4" fill="none" stroke="#000" stroke-width="1.1" stroke-linejoin="round" stroke-linecap="round" />
<polyline points="488.2,446.4 485.9,473.1" fill="none" stroke="#000" stroke-width="1.1" stroke-linejoin="round" stroke-linecap="round" />
<polyline points="548.7,451 544,478.9" fill="none" stroke="#000" stroke-width="1.1" stroke-linejoin="round" stroke-linecap="round" />
<polyline points="520,432 575,412 598,419" fill="none" stroke="#000" stroke-width="0.9" stroke-linejoin="round" stroke-linecap="round" />
<polyline points="540,445 575,430 598,436" fill="none" stroke="#000" stroke-width="0.9" stroke-linejoin="round" stroke-linecap="round" />
<polygon points="601,409 614,407 614,432 601,434" fill="#fff" stroke="#000" stroke-width="1.0" stroke-linejoin="round" />
<polygon points="655,407 668,404 668,425 655,428" fill="#fff" stroke="#000" stroke-width="1.0" stroke-linejoin="round" />
<ellipse cx="605.3" cy="433" rx="7.5" ry="3.8" transform="rotate(-8 605.3 433)" fill="#fff" stroke="#1a1a1a" stroke-width="1.0" />
<ellipse cx="664.2" cy="425" rx="7.5" ry="3.8" transform="rotate(-8 664.2 425)" fill="#fff" stroke="#1a1a1a" stroke-width="1.0" />
<polygon points="620,413 651,410.5 651,426 620,428.5" fill="url(#hatch)" stroke="#000" stroke-width="0.8" stroke-linejoin="round" />
<polygon points="590,412 598,411 598,427 590,428" fill="url(#hatch)" stroke="#000" stroke-width="0.6" stroke-linejoin="round" />
<polygon points="579,386 585,385 585,404 579,405" fill="#fff" stroke="#000" stroke-width="0.8" stroke-linejoin="round" />
<polygon points="581.1,391.4 581.1,396.5 606.8,410.2 646.1,411.5 682.3,401.6 682.3,396.6 646.1,406.5 606.8,405" fill="#fff" stroke="#000" stroke-width="1.0" stroke-linejoin="round" />
<polygon points="581.1,391.4 593.2,377 629.5,367.9 682.3,396.6 646.1,406.5 606.8,405" fill="#fff" stroke="#000" stroke-width="1.2" stroke-linejoin="round" />
<ellipse cx="609.8" cy="374.7" rx="6" ry="3.6" transform="rotate(-10 609.8 374.7)" fill="#fff" stroke="#1a1a1a" stroke-width="1.0" />
<ellipse cx="590.2" cy="389.1" rx="6" ry="3.6" transform="rotate(-10 590.2 389.1)" fill="#fff" stroke="#1a1a1a" stroke-width="1.0" />
<ellipse cx="609.8" cy="398.9" rx="6" ry="3.6" transform="rotate(-10 609.8 398.9)" fill="#fff" stroke="#1a1a1a" stroke-width="1.0" />
<ellipse cx="652.1" cy="397.4" rx="6" ry="3.6" transform="rotate(-10 652.1 397.4)" fill="#fff" stroke="#1a1a1a" stroke-width="1.0" />
<polygon points="559,367 594,381 594,387 560,374" fill="#fff" stroke="#000" stroke-width="1.0" stroke-linejoin="round" />
<polygon points="515,386 584,397 587,403.5 516,392.5" fill="#fff" stroke="#000" stroke-width="1.0" stroke-linejoin="round" />
<ellipse cx="561" cy="370.5" rx="7" ry="4" transform="rotate(-10 561 370.5)" fill="#fff" stroke="#1a1a1a" stroke-width="1.0" />
<ellipse cx="518" cy="389" rx="7" ry="4" transform="rotate(-10 518 389)" fill="#fff" stroke="#1a1a1a" stroke-width="1.0" />
<polyline points="646.1,406.5 676.3,405 671.8,427.6" fill="none" stroke="#000" stroke-width="1.0" stroke-linejoin="round" stroke-linecap="round" />
<polygon points="646,408 650,406 668,423 664,426" fill="#fff" stroke="#000" stroke-width="1.0" stroke-linejoin="round" /></g>
<g transform="translate(24.9,331) rotate(-45)"><g transform="translate(0,-0.6)"><text x="0" y="0" font-family="Liberation Sans, sans-serif" font-size="31.4" fill="#9c9fa2" textLength="33.28" lengthAdjust="spacingAndGlyphs">66</text><path transform="translate(34.54,-27) scale(0.29)" d="M4,30 L40,30 M22,8 L22,96 M22,42 L4,70 M24,46 L38,58 M50,18 L50,60 C50,80 46,88 40,94 M50,18 L74,18 L74,86 C74,92 80,94 96,92" fill="none" stroke="#9c9fa2" stroke-width="8.31" stroke-linecap="round" stroke-linejoin="round"/><path transform="translate(65.31,-27) scale(0.29)" d="M2,30 L28,30 M15,8 L15,96 M15,42 L2,68 M17,46 L28,56 M34,38 L58,38 M40,22 L40,60 M52,22 L52,60 M34,60 L58,60 M30,80 L46,68 M50,68 L58,80 M62,26 L98,26 M78,6 C80,50 86,80 98,94 M94,10 L98,16 M96,44 C88,66 74,84 62,94" fill="none" stroke="#9c9fa2" stroke-width="8.31" stroke-linecap="round" stroke-linejoin="round"/><path transform="translate(96.08,-27) scale(0.29)" d="M8,10 L8,96 M8,10 L92,10 L92,86 C92,92 86,94 80,92 M24,30 L46,70 M46,30 L24,72 M52,30 L76,70 M76,30 L52,72" fill="none" stroke="#9c9fa2" stroke-width="8.31" stroke-linecap="round" stroke-linejoin="round"/><text x="133.76" y="0" font-family="Liberation Sans, sans-serif" font-size="31.4" fill="#9c9fa2" textLength="300" lengthAdjust="spacingAndGlyphs">www.66machine.com</text></g><g transform="translate(0,0.9)"><text x="0" y="0" font-family="Liberation Sans, sans-serif" font-size="31.4" fill="#e3e6e9" textLength="33.28" lengthAdjust="spacingAndGlyphs">66</text><path transform="translate(34.54,-27) scale(0.29)" d="M4,30 L40,30 M22,8 L22,96 M22,42 L4,70 M24,46 L38,58 M50,18 L50,60 C50,80 46,88 40,94 M50,18 L74,18 L74,86 C74,92 80,94 96,92" fill="none" stroke="#e3e6e9" stroke-width="8.31" stroke-linecap="round" stroke-linejoin="round"/><path transform="translate(65.31,-27) scale(0.29)" d="M2,30 L28,30 M15,8 L15,96 M15,42 L2,68 M17,46 L28,56 M34,38 L58,38 M40,22 L40,60 M52,22 L52,60 M34,60 L58,60 M30,80 L46,68 M50,68 L58,80 M62,26 L98,26 M78,6 C80,50 86,80 98,94 M94,10 L98,16 M96,44 C88,66 74,84 62,94" fill="none" stroke="#e3e6e9" stroke-width="8.31" stroke-linecap="round" stroke-linejoin="round"/><path transform="translate(96.08,-27) scale(0.29)" d="M8,10 L8,96 M8,10 L92,10 L92,86 C92,92 86,94 80,92 M24,30 L46,70 M46,30 L24,72 M52,30 L76,70 M76,30 L52,72" fill="none" stroke="#e3e6e9" stroke-width="8.31" stroke-linecap="round" stroke-linejoin="round"/><text x="133.76" y="0" font-family="Liberation Sans, sans-serif" font-size="31.4" fill="#e3e6e9" textLength="300" lengthAdjust="spacingAndGlyphs">www.66machine.com</text></g></g>
<g transform="translate(586.9,331) rotate(-45)"><g transform="translate(0,-0.6)"><text x="0" y="0" font-family="Liberation Sans, sans-serif" font-size="31.4" fill="#9c9fa2" textLength="33.28" lengthAdjust="spacingAndGlyphs">66</text><path transform="translate(34.54,-27) scale(0.29)" d="M4,30 L40,30 M22,8 L22,96 M22,42 L4,70 M24,46 L38,58 M50,18 L50,60 C50,80 46,88 40,94 M50,18 L74,18 L74,86 C74,92 80,94 96,92" fill="none" stroke="#9c9fa2" stroke-width="8.31" stroke-linecap="round" stroke-linejoin="round"/><path transform="translate(65.31,-27) scale(0.29)" d="M2,30 L28,30 M15,8 L15,96 M15,42 L2,68 M17,46 L28,56 M34,38 L58,38 M40,22 L40,60 M52,22 L52,60 M34,60 L58,60 M30,80 L46,68 M50,68 L58,80 M62,26 L98,26 M78,6 C80,50 86,80 98,94 M94,10 L98,16 M96,44 C88,66 74,84 62,94" fill="none" stroke="#9c9fa2" stroke-width="8.31" stroke-linecap="round" stroke-linejoin="round"/><path transform="translate(96.08,-27) scale(0.29)" d="M8,10 L8,96 M8,10 L92,10 L92,86 C92,92 86,94 80,92 M24,30 L46,70 M46,30 L24,72 M52,30 L76,70 M76,30 L52,72" fill="none" stroke="#9c9fa2" stroke-width="8.31" stroke-linecap="round" stroke-linejoin="round"/><text x="133.76" y="0" font-family="Liberation Sans, sans-serif" font-size="31.4" fill="#9c9fa2" textLength="300" lengthAdjust="spacingAndGlyphs">www.66machine.com</text></g><g transform="translate(0,0.9)"><text x="0" y="0" font-family="Liberation Sans, sans-serif" font-size="31.4" fill="#e3e6e9" textLength="33.28" lengthAdjust="spacingAndGlyphs">66</text><path transform="translate(34.54,-27) scale(0.29)" d="M4,30 L40,30 M22,8 L22,96 M22,42 L4,70 M24,46 L38,58 M50,18 L50,60 C50,80 46,88 40,94 M50,18 L74,18 L74,86 C74,92 80,94 96,92" fill="none" stroke="#e3e6e9" stroke-width="8.31" stroke-linecap="round" stroke-linejoin="round"/><path transform="translate(65.31,-27) scale(0.29)" d="M2,30 L28,30 M15,8 L15,96 M15,42 L2,68 M17,46 L28,56 M34,38 L58,38 M40,22 L40,60 M52,22 L52,60 M34,60 L58,60 M30,80 L46,68 M50,68 L58,80 M62,26 L98,26 M78,6 C80,50 86,80 98,94 M94,10 L98,16 M96,44 C88,66 74,84 62,94" fill="none" stroke="#e3e6e9" stroke-width="8.31" stroke-linecap="round" stroke-linejoin="round"/><path transform="translate(96.08,-27) scale(0.29)" d="M8,10 L8,96 M8,10 L92,10 L92,86 C92,92 86,94 80,92 M24,30 L46,70 M46,30 L24,72 M52,30 L76,70 M76,30 L52,72" fill="none" stroke="#e3e6e9" stroke-width="8.31" stroke-linecap="round" stroke-linejoin="round"/><text x="133.76" y="0" font-family="Liberation Sans, sans-serif" font-size="31.4" fill="#e3e6e9" textLength="300" lengthAdjust="spacingAndGlyphs">www.66machine.com</text></g></g>
<g transform="translate(1148.9,331) rotate(-45)"><g transform="translate(0,-0.6)"><text x="0" y="0" font-family="Liberation Sans, sans-serif" font-size="31.4" fill="#9c9fa2" textLength="33.28" lengthAdjust="spacingAndGlyphs">66</text><path transform="translate(34.54,-27) scale(0.29)" d="M4,30 L40,30 M22,8 L22,96 M22,42 L4,70 M24,46 L38,58 M50,18 L50,60 C50,80 46,88 40,94 M50,18 L74,18 L74,86 C74,92 80,94 96,92" fill="none" stroke="#9c9fa2" stroke-width="8.31" stroke-linecap="round" stroke-linejoin="round"/><path transform="translate(65.31,-27) scale(0.29)" d="M2,30 L28,30 M15,8 L15,96 M15,42 L2,68 M17,46 L28,56 M34,38 L58,38 M40,22 L40,60 M52,22 L52,60 M34,60 L58,60 M30,80 L46,68 M50,68 L58,80 M62,26 L98,26 M78,6 C80,50 86,80 98,94 M94,10 L98,16 M96,44 C88,66 74,84 62,94" fill="none" stroke="#9c9fa2" stroke-width="8.31" stroke-linecap="round" stroke-linejoin="round"/><path transform="translate(96.08,-27) scale(0.29)" d="M8,10 L8,96 M8,10 L92,10 L92,86 C92,92 86,94 80,92 M24,30 L46,70 M46,30 L24,72 M52,30 L76,70 M76,30 L52,72" fill="none" stroke="#9c9fa2" stroke-width="8.31" stroke-linecap="round" stroke-linejoin="round"/><text x="133.76" y="0" font-family="Liberation Sans, sans-serif" font-size="31.4" fill="#9c9fa2" textLength="300" lengthAdjust="spacingAndGlyphs">www.66machine.com</text></g><g transform="translate(0,0.9)"><text x="0" y="0" font-family="Liberation Sans, sans-serif" font-size="31.4" fill="#e3e6e9" textLength="33.28" lengthAdjust="spacingAndGlyphs">66</text><path transform="translate(34.54,-27) scale(0.29)" d="M4,30 L40,30 M22,8 L22,96 M22,42 L4,70 M24,46 L38,58 M50,18 L50,60 C50,80 46,88 40,94 M50,18 L74,18 L74,86 C74,92 80,94 96,92" fill="none" stroke="#e3e6e9" stroke-width="8.31" stroke-linecap="round" stroke-linejoin="round"/><path transform="translate(65.31,-27) scale(0.29)" d="M2,30 L28,30 M15,8 L15,96 M15,42 L2,68 M17,46 L28,56 M34,38 L58,38 M40,22 L40,60 M52,22 L52,60 M34,60 L58,60 M30,80 L46,68 M50,68 L58,80 M62,26 L98,26 M78,6 C80,50 86,80 98,94 M94,10 L98,16 M96,44 C88,66 74,84 62,94" fill="none" stroke="#e3e6e9" stroke-width="8.31" stroke-linecap="round" stroke-linejoin="round"/><path transform="translate(96.08,-27) scale(0.29)" d="M8,10 L8,96 M8,10 L92,10 L92,86 C92,92 86,94 80,92 M24,30 L46,70 M46,30 L24,72 M52,30 L76,70 M76,30 L52,72" fill="none" stroke="#e3e6e9" stroke-width="8.31" stroke-linecap="round" stroke-linejoin="round"/><text x="133.76" y="0" font-family="Liberation Sans, sans-serif" font-size="31.4" fill="#e3e6e9" textLength="300" lengthAdjust="spacingAndGlyphs">www.66machine.com</text></g></g>
<g transform="translate(24.9,891) rotate(-45)"><g transform="translate(0,-0.6)"><text x="0" y="0" font-family="Liberation Sans, sans-serif" font-size="31.4" fill="#9c9fa2" textLength="33.28" lengthAdjust="spacingAndGlyphs">66</text><path transform="translate(34.54,-27) scale(0.29)" d="M4,30 L40,30 M22,8 L22,96 M22,42 L4,70 M24,46 L38,58 M50,18 L50,60 C50,80 46,88 40,94 M50,18 L74,18 L74,86 C74,92 80,94 96,92" fill="none" stroke="#9c9fa2" stroke-width="8.31" stroke-linecap="round" stroke-linejoin="round"/><path transform="translate(65.31,-27) scale(0.29)" d="M2,30 L28,30 M15,8 L15,96 M15,42 L2,68 M17,46 L28,56 M34,38 L58,38 M40,22 L40,60 M52,22 L52,60 M34,60 L58,60 M30,80 L46,68 M50,68 L58,80 M62,26 L98,26 M78,6 C80,50 86,80 98,94 M94,10 L98,16 M96,44 C88,66 74,84 62,94" fill="none" stroke="#9c9fa2" stroke-width="8.31" stroke-linecap="round" stroke-linejoin="round"/><path transform="translate(96.08,-27) scale(0.29)" d="M8,10 L8,96 M8,10 L92,10 L92,86 C92,92 86,94 80,92 M24,30 L46,70 M46,30 L24,72 M52,30 L76,70 M76,30 L52,72" fill="none" stroke="#9c9fa2" stroke-width="8.31" stroke-linecap="round" stroke-linejoin="round"/><text x="133.76" y="0" font-family="Liberation Sans, sans-serif" font-size="31.4" fill="#9c9fa2" textLength="300" lengthAdjust="spacingAndGlyphs">www.66machine.com</text></g><g transform="translate(0,0.9)"><text x="0" y="0" font-family="Liberation Sans, sans-serif" font-size="31.4" fill="#e3e6e9" textLength="33.28" lengthAdjust="spacingAndGlyphs">66</text><path transform="translate(34.54,-27) scale(0.29)" d="M4,30 L40,30 M22,8 L22,96 M22,42 L4,70 M24,46 L38,58 M50,18 L50,60 C50,80 46,88 40,94 M50,18 L74,18 L74,86 C74,92 80,94 96,92" fill="none" stroke="#e3e6e9" stroke-width="8.31" stroke-linecap="round" stroke-linejoin="round"/><path transform="translate(65.31,-27) scale(0.29)" d="M2,30 L28,30 M15,8 L15,96 M15,42 L2,68 M17,46 L28,56 M34,38 L58,38 M40,22 L40,60 M52,22 L52,60 M34,60 L58,60 M30,80 L46,68 M50,68 L58,80 M62,26 L98,26 M78,6 C80,50 86,80 98,94 M94,10 L98,16 M96,44 C88,66 74,84 62,94" fill="none" stroke="#e3e6e9" stroke-width="8.31" stroke-linecap="round" stroke-linejoin="round"/><path transform="translate(96.08,-27) scale(0.29)" d="M8,10 L8,96 M8,10 L92,10 L92,86 C92,92 86,94 80,92 M24,30 L46,70 M46,30 L24,72 M52,30 L76,70 M76,30 L52,72" fill="none" stroke="#e3e6e9" stroke-width="8.31" stroke-linecap="round" stroke-linejoin="round"/><text x="133.76" y="0" font-family="Liberation Sans, sans-serif" font-size="31.4" fill="#e3e6e9" textLength="300" lengthAdjust="spacingAndGlyphs">www.66machine.com</text></g></g>
<g transform="translate(586.9,891) rotate(-45)"><g transform="translate(0,-0.6)"><text x="0" y="0" font-family="Liberation Sans, sans-serif" font-size="31.4" fill="#9c9fa2" textLength="33.28" lengthAdjust="spacingAndGlyphs">66</text><path transform="translate(34.54,-27) scale(0.29)" d="M4,30 L40,30 M22,8 L22,96 M22,42 L4,70 M24,46 L38,58 M50,18 L50,60 C50,80 46,88 40,94 M50,18 L74,18 L74,86 C74,92 80,94 96,92" fill="none" stroke="#9c9fa2" stroke-width="8.31" stroke-linecap="round" stroke-linejoin="round"/><path transform="translate(65.31,-27) scale(0.29)" d="M2,30 L28,30 M15,8 L15,96 M15,42 L2,68 M17,46 L28,56 M34,38 L58,38 M40,22 L40,60 M52,22 L52,60 M34,60 L58,60 M30,80 L46,68 M50,68 L58,80 M62,26 L98,26 M78,6 C80,50 86,80 98,94 M94,10 L98,16 M96,44 C88,66 74,84 62,94" fill="none" stroke="#9c9fa2" stroke-width="8.31" stroke-linecap="round" stroke-linejoin="round"/><path transform="translate(96.08,-27) scale(0.29)" d="M8,10 L8,96 M8,10 L92,10 L92,86 C92,92 86,94 80,92 M24,30 L46,70 M46,30 L24,72 M52,30 L76,70 M76,30 L52,72" fill="none" stroke="#9c9fa2" stroke-width="8.31" stroke-linecap="round" stroke-linejoin="round"/><text x="133.76" y="0" font-family="Liberation Sans, sans-serif" font-size="31.4" fill="#9c9fa2" textLength="300" lengthAdjust="spacingAndGlyphs">www.66machine.com</text></g><g transform="translate(0,0.9)"><text x="0" y="0" font-family="Liberation Sans, sans-serif" font-size="31.4" fill="#e3e6e9" textLength="33.28" lengthAdjust="spacingAndGlyphs">66</text><path transform="translate(34.54,-27) scale(0.29)" d="M4,30 L40,30 M22,8 L22,96 M22,42 L4,70 M24,46 L38,58 M50,18 L50,60 C50,80 46,88 40,94 M50,18 L74,18 L74,86 C74,92 80,94 96,92" fill="none" stroke="#e3e6e9" stroke-width="8.31" stroke-linecap="round" stroke-linejoin="round"/><path transform="translate(65.31,-27) scale(0.29)" d="M2,30 L28,30 M15,8 L15,96 M15,42 L2,68 M17,46 L28,56 M34,38 L58,38 M40,22 L40,60 M52,22 L52,60 M34,60 L58,60 M30,80 L46,68 M50,68 L58,80 M62,26 L98,26 M78,6 C80,50 86,80 98,94 M94,10 L98,16 M96,44 C88,66 74,84 62,94" fill="none" stroke="#e3e6e9" stroke-width="8.31" stroke-linecap="round" stroke-linejoin="round"/><path transform="translate(96.08,-27) scale(0.29)" d="M8,10 L8,96 M8,10 L92,10 L92,86 C92,92 86,94 80,92 M24,30 L46,70 M46,30 L24,72 M52,30 L76,70 M76,30 L52,72" fill="none" stroke="#e3e6e9" stroke-width="8.31" stroke-linecap="round" stroke-linejoin="round"/><text x="133.76" y="0" font-family="Liberation Sans, sans-serif" font-size="31.4" fill="#e3e6e9" textLength="300" lengthAdjust="spacingAndGlyphs">www.66machine.com</text></g></g>
<g transform="translate(1148.9,891) rotate(-45)"><g transform="translate(0,-0.6)"><text x="0" y="0" font-family="Liberation Sans, sans-serif" font-size="31.4" fill="#9c9fa2" textLength="33.28" lengthAdjust="spacingAndGlyphs">66</text><path transform="translate(34.54,-27) scale(0.29)" d="M4,30 L40,30 M22,8 L22,96 M22,42 L4,70 M24,46 L38,58 M50,18 L50,60 C50,80 46,88 40,94 M50,18 L74,18 L74,86 C74,92 80,94 96,92" fill="none" stroke="#9c9fa2" stroke-width="8.31" stroke-linecap="round" stroke-linejoin="round"/><path transform="translate(65.31,-27) scale(0.29)" d="M2,30 L28,30 M15,8 L15,96 M15,42 L2,68 M17,46 L28,56 M34,38 L58,38 M40,22 L40,60 M52,22 L52,60 M34,60 L58,60 M30,80 L46,68 M50,68 L58,80 M62,26 L98,26 M78,6 C80,50 86,80 98,94 M94,10 L98,16 M96,44 C88,66 74,84 62,94" fill="none" stroke="#9c9fa2" stroke-width="8.31" stroke-linecap="round" stroke-linejoin="round"/><path transform="translate(96.08,-27) scale(0.29)" d="M8,10 L8,96 M8,10 L92,10 L92,86 C92,92 86,94 80,92 M24,30 L46,70 M46,30 L24,72 M52,30 L76,70 M76,30 L52,72" fill="none" stroke="#9c9fa2" stroke-width="8.31" stroke-linecap="round" stroke-linejoin="round"/><text x="133.76" y="0" font-family="Liberation Sans, sans-serif" font-size="31.4" fill="#9c9fa2" textLength="300" lengthAdjust="spacingAndGlyphs">www.66machine.com</text></g><g transform="translate(0,0.9)"><text x="0" y="0" font-family="Liberation Sans, sans-serif" font-size="31.4" fill="#e3e6e9" textLength="33.28" lengthAdjust="spacingAndGlyphs">66</text><path transform="translate(34.54,-27) scale(0.29)" d="M4,30 L40,30 M22,8 L22,96 M22,42 L4,70 M24,46 L38,58 M50,18 L50,60 C50,80 46,88 40,94 M50,18 L74,18 L74,86 C74,92 80,94 96,92" fill="none" stroke="#e3e6e9" stroke-width="8.31" stroke-linecap="round" stroke-linejoin="round"/><path transform="translate(65.31,-27) scale(0.29)" d="M2,30 L28,30 M15,8 L15,96 M15,42 L2,68 M17,46 L28,56 M34,38 L58,38 M40,22 L40,60 M52,22 L52,60 M34,60 L58,60 M30,80 L46,68 M50,68 L58,80 M62,26 L98,26 M78,6 C80,50 86,80 98,94 M94,10 L98,16 M96,44 C88,66 74,84 62,94" fill="none" stroke="#e3e6e9" stroke-width="8.31" stroke-linecap="round" stroke-linejoin="round"/><path transform="translate(96.08,-27) scale(0.29)" d="M8,10 L8,96 M8,10 L92,10 L92,86 C92,92 86,94 80,92 M24,30 L46,70 M46,30 L24,72 M52,30 L76,70 M76,30 L52,72" fill="none" stroke="#e3e6e9" stroke-width="8.31" stroke-linecap="round" stroke-linejoin="round"/><text x="133.76" y="0" font-family="Liberation Sans, sans-serif" font-size="31.4" fill="#e3e6e9" textLength="300" lengthAdjust="spacingAndGlyphs">www.66machine.com</text></g></g>
</svg>
</body></html>
